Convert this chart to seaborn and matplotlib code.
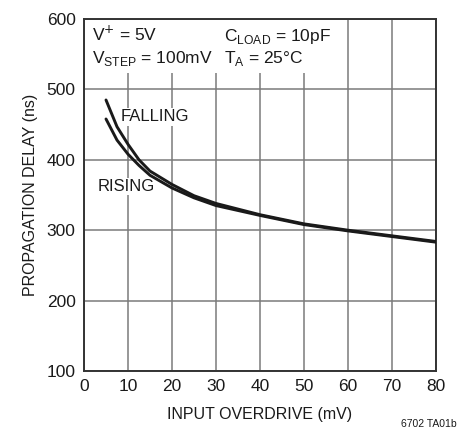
import matplotlib
matplotlib.use("Agg")
import matplotlib.pyplot as plt
import seaborn as sns
import pandas as pd
from matplotlib.patches import Rectangle

overdrive = [5, 7.5, 10, 12.5, 15, 20, 25, 30, 40, 50, 60, 70, 80]
falling = [485, 447, 422, 400, 384, 365, 349, 338, 322, 309, 300, 292, 284]
rising = [458, 428, 408, 392, 378, 360, 346, 335, 321, 308, 299, 291, 283]
x_ticks = [0, 10, 20, 30, 40, 50, 60, 70, 80]
y_ticks = [100, 200, 300, 400, 500, 600]

df = pd.DataFrame({
    "overdrive": overdrive * 2,
    "delay": falling + rising,
    "edge": ["FALLING"] * len(overdrive) + ["RISING"] * len(overdrive),
})

sns.set_theme(style="white")
plt.rcParams["font.family"] = ["Liberation Sans", "DejaVu Sans"]

fig = plt.figure(figsize=(4.58, 4.30), dpi=100)
ax = fig.add_axes([0.1834, 0.1372, 0.7686, 0.8186])

sns.lineplot(data=df, x="overdrive", y="delay", units="edge", estimator=None,
             color="#1a1a1a", linewidth=2.1, ax=ax, zorder=5)

ax.set_xlim(0, 80)
ax.set_ylim(100, 600)
ax.set_xticks(x_ticks)
ax.set_yticks(y_ticks)
ax.grid(True, color="#7a7a7a", linewidth=1.1)
ax.set_axisbelow(True)
for s in ax.spines.values():
    s.set_color("#333333")
    s.set_linewidth(1.4)
ax.tick_params(axis="both", labelsize=12.5, colors="#1a1a1a", length=0, pad=6)

ax.set_xlabel("INPUT OVERDRIVE (mV)", fontsize=11.5, color="#1a1a1a", labelpad=9)
ax.set_ylabel("PROPAGATION DELAY (ns)", fontsize=11.5, color="#1a1a1a", labelpad=6)

# white area behind the condition text
ax.add_patch(Rectangle((0.005, 0.847), 0.63, 0.15, transform=ax.transAxes,
                       facecolor="white", edgecolor="none", zorder=2))

tk = dict(fontsize=12.5, color="#1a1a1a", transform=ax.transAxes, zorder=6, va="baseline")
ax.text(0.022, 0.938, r"V$^{+}$ = 5V", **tk)
ax.text(0.022, 0.875, r"V$_{\mathregular{STEP}}$ = 100mV", **tk)
ax.text(0.398, 0.938, r"C$_{\mathregular{LOAD}}$ = 10pF", **tk)
ax.text(0.398, 0.875, r"T$_{\mathregular{A}}$ = 25°C", **tk)

bb = dict(facecolor="white", edgecolor="none", pad=1)
ax.text(8.4, 461, "FALLING", fontsize=12, color="#1a1a1a", va="center", ha="left",
        bbox=bb, zorder=4)
ax.text(3.0, 362, "RISING", fontsize=12, color="#1a1a1a", va="center", ha="left",
        bbox=bb, zorder=4)

fig.text(0.997, 0.002, "6702 TA01b", fontsize=7.5, color="#1a1a1a", ha="right", va="bottom")

fig.savefig("out.png", dpi=100)
